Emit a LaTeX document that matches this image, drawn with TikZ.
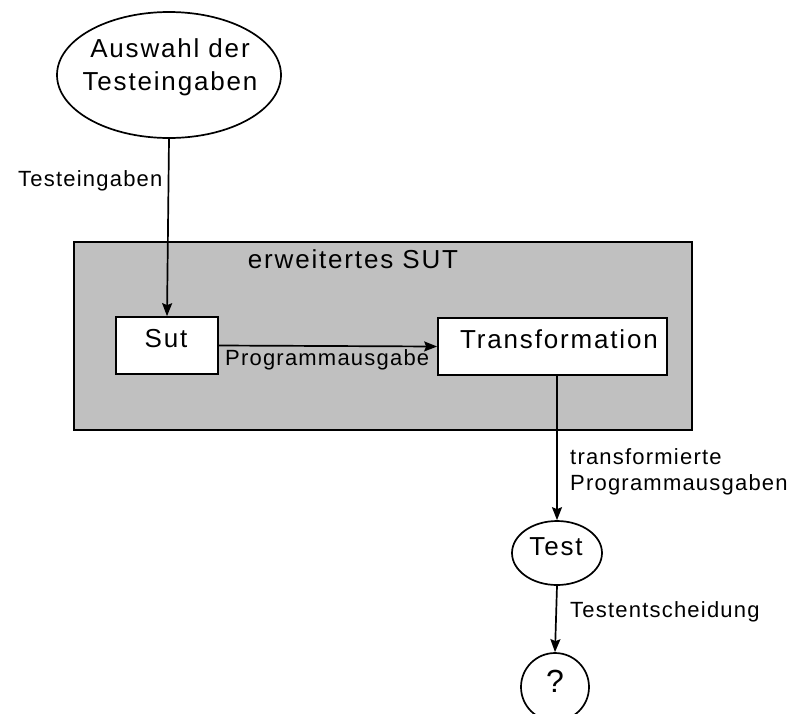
\documentclass[tikz,border=0pt]{standalone}
\usepackage{fontspec}
\setmainfont{Liberation Sans}[LetterSpace=4]
\newfontfamily\bigfam{Liberation Sans}[LetterSpace=7]
\newfontfamily\labfam{Liberation Sans}[LetterSpace=5.5]
\usetikzlibrary{shapes.geometric,arrows.meta}
\definecolor{boxgray}{HTML}{C0C0C0}
\tikzset{
  line/.style={line width=1.7pt, draw=black},
  arr/.style={line, -{Stealth[length=13pt,width=10pt,inset=2pt]}},
  bigtxt/.style={font=\bigfam\fontsize{26}{33}\selectfont, inner sep=0pt, anchor=base},
  labtxt/.style={font=\labfam\fontsize{22}{24}\selectfont, inner sep=0pt, anchor=base west},
  whitebox/.style={line, fill=white, rectangle, inner sep=0pt},
  oval/.style={line, ellipse, inner sep=0pt, fill=white}
}
\begin{document}
\begin{tikzpicture}[x=1pt,y=-1pt]
  \useasboundingbox (0,0) rectangle (792,713);
  \clip (0,0) rectangle (792,713);

  % extended SUT frame
  \node[line, fill=boxgray, rectangle, inner sep=0pt, minimum width=618pt, minimum height=188pt]
    (ext) at (383,336) {};
  \node[bigtxt] (exttxt) at (353,268) {erweitertes SUT};

  % test input selection
  \node[oval, minimum width=224pt, minimum height=126pt] (auswahl) at (169,75) {};
  \node[bigtxt] (aus1) at (170,57) {Auswahl der};
  \node[bigtxt] (aus2) at (170,90) {Testeingaben};

  % system under test and transformation
  \node[whitebox, minimum width=102pt, minimum height=57pt] (sut) at (167,345.5) {};
  \node[bigtxt] (suttxt) at (166,347) {Sut};
  \node[whitebox, minimum width=229pt, minimum height=57pt] (trans) at (552.5,346.5) {};
  \node[bigtxt] (transtxt) at (559,348) {Transformation};

  % test oracle and verdict
  \node[oval, minimum width=90pt, minimum height=64pt] (test) at (557,553) {};
  \node[bigtxt] (testtxt) at (556,555) {Test};
  \node[oval, circle, minimum size=68pt] (verdict) at (555,687) {};
  \node[font=\bigfam\fontsize{32}{36}\selectfont, inner sep=0pt, anchor=base] (q) at (555,692) {?};

  % data flow
  \draw[arr] (auswahl.south) -- (sut.north);
  \node[labtxt] at (18,186) {Testeingaben};
  \draw[arr] (sut.east) -- (trans.west);
  \node[labtxt] at (225,365) {Programmausgabe};
  \draw[arr] (trans.south -| test.north) -- (test.north);
  \node[labtxt] at (570,464) {transformierte};
  \node[labtxt] at (570,490) {Programmausgaben};
  \draw[arr] (test.south) -- (verdict.north);
  \node[labtxt] at (570,617) {Testentscheidung};
\end{tikzpicture}
\end{document}
